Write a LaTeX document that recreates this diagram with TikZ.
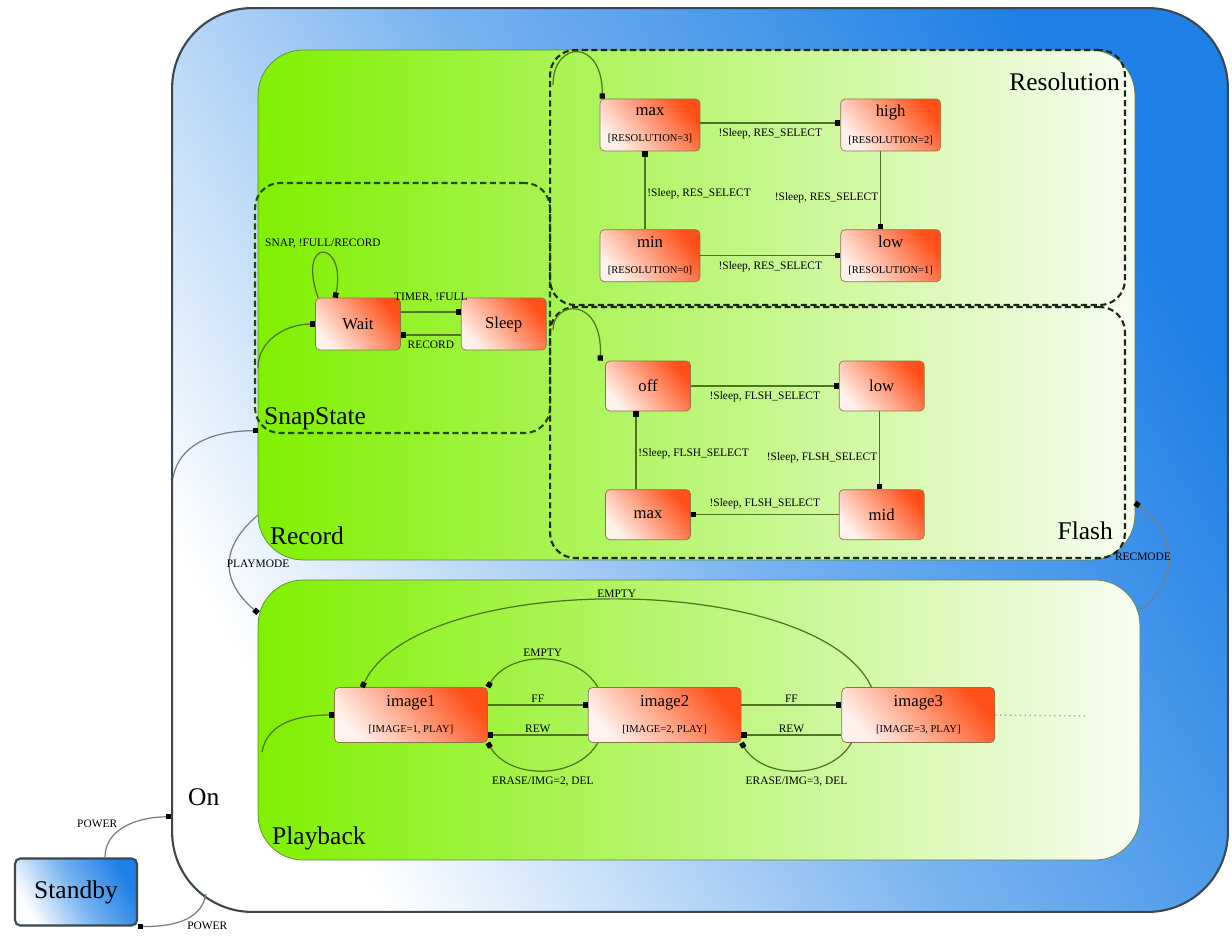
\documentclass[tikz,border=0pt]{standalone}
\usepackage{fontspec}
\setmainfont{Liberation Serif}
\usepackage{xcolor}
\definecolor{StateRed}{RGB}{255,80,25}
\definecolor{StatePale}{RGB}{255,242,236}
\definecolor{StateEdge}{RGB}{140,115,75}
\definecolor{LeafGreen}{RGB}{128,240,0}
\definecolor{PaleGreen}{RGB}{248,252,242}
\definecolor{FrameGreen}{RGB}{95,135,55}
\definecolor{EdgeGreen}{RGB}{80,115,35}
\definecolor{RegionLine}{RGB}{25,40,20}
\definecolor{SnapLine}{RGB}{30,75,0}
\definecolor{SkyBlue}{RGB}{30,128,230}
\definecolor{FrameGray}{RGB}{60,70,80}
\usetikzlibrary{positioning,arrows.meta,shapes,calc}
\newcommand{\stcond}[1]{{\fontsize{6}{7}\selectfont[#1]}}

\begin{document}
\begin{tikzpicture}[x=0.02cm, y=-0.02cm,
    bluebox/.style={rectangle, draw=FrameGray, line width=1.2pt, inner sep=0pt,
                top color=SkyBlue, bottom color=white, middle color=SkyBlue!60,
                shading angle=-60},
    area/.style={rectangle, draw=FrameGreen, inner sep=0pt, outer sep=0pt,
                rounded corners=0.9cm, left color=LeafGreen, right color=PaleGreen},
    region/.style={rectangle, draw=RegionLine, line width=1.2pt,
                dash pattern=on 3.5pt off 2pt, inner sep=0pt, outer sep=0pt,
                rounded corners=0.5cm},
    state/.style={rectangle, draw=StateEdge, rounded corners=2.5pt,
                top color=StateRed, bottom color=StatePale, shading angle=-50,
                align=center, font=\fontsize{9.5}{10}\selectfont, inner sep=1pt},
    title/.style={font=\fontsize{14.5}{16}\selectfont, inner sep=1pt},
    lbl/.style={font=\fontsize{6.5}{7}\selectfont, inner sep=1pt},
    arrow/.style={-{Square[length=3pt,width=3pt,color=black]}, draw=EdgeGreen, line width=0.7pt},
    onarrow/.style={-{Square[length=3pt,width=3pt,color=black]}, draw=FrameGray!70, line width=0.7pt}
]
    \useasboundingbox (0,0) rectangle (1232,942);

    % containers
    \node[bluebox, rounded corners=1.6cm, minimum width=21.12cm, minimum height=18.08cm] (on) at (700,460) {};
    \node[area, minimum width=17.54cm, minimum height=10.2cm] (record) at (696.5,305) {};
    \node[area, minimum width=17.64cm, minimum height=5.6cm] (playback) at (699,720) {};
    \node[region, draw=SnapLine, minimum width=5.9cm, minimum height=5cm] (snapstate) at (402.5,308) {};
    \node[region, minimum width=11.5cm, minimum height=5.1cm] (resolution) at (837.5,177.5) {};
    \node[region, minimum width=11.5cm, minimum height=5.02cm] (flash) at (837.5,432.5) {};
    \node[bluebox, rounded corners=3pt, minimum width=2.44cm, minimum height=1.34cm, title] (standby) at (76,892) {Standby};

    \node[title, anchor=base west] (ontitle) at ([xshift=0.3cm,yshift=2.14cm]on.south west) {On};
    \node[title, anchor=base west] (rectitle) at ([xshift=0.2cm,yshift=0.3cm]record.south west) {Record};
    \node[title, anchor=base west] (playtitle) at ([xshift=0.24cm,yshift=0.3cm]playback.south west) {Playback};
    \node[title, anchor=base west] (snaptitle) at ([xshift=0.14cm,yshift=0.16cm]snapstate.south west) {SnapState};
    \node[title, anchor=north east] (restitle) at ([xshift=-0.06cm,yshift=-0.42cm]resolution.north east) {Resolution};
    \node[title, anchor=base east] (flashtitle) at ([xshift=-0.2cm,yshift=0.36cm]flash.south east) {Flash};

    % snap state
    \node[state, minimum width=1.7cm, minimum height=1.04cm] (wait) at (358,324) {Wait};
    \node[state, minimum width=1.7cm, minimum height=1.04cm, right=1.2cm of wait] (sleep) {Sleep};

    % resolution
    \node[state, minimum width=2cm, minimum height=1.04cm] (rmax) at (650,125) {max\\[5pt]\stcond{RESOLUTION=3}};
    \node[state, minimum width=2cm, minimum height=1.04cm, right=2.8cm of rmax] (rhigh) {high\\[5pt]\stcond{RESOLUTION=2}};
    \node[state, minimum width=2cm, minimum height=1.04cm, below=1.56cm of rmax] (rmin) {min\\[5pt]\stcond{RESOLUTION=0}};
    \node[state, minimum width=2cm, minimum height=1.04cm, right=2.8cm of rmin] (rlow) {low\\[5pt]\stcond{RESOLUTION=1}};

    % flash
    \node[state, minimum width=1.7cm, minimum height=1cm] (foff) at (648,386) {off};
    \node[state, minimum width=1.7cm, minimum height=1cm, right=2.96cm of foff] (flow) {low};
    \node[state, minimum width=1.7cm, minimum height=1cm, below=1.56cm of foff] (fmax) {max};
    \node[state, minimum width=1.7cm, minimum height=1cm, right=2.96cm of fmax] (fmid) {mid};

    % playback
    \node[state, minimum width=3.06cm, minimum height=1.1cm] (image1) at (411,715) {image1\\[5pt]\stcond{IMAGE=1, PLAY}};
    \node[state, minimum width=3.06cm, minimum height=1.1cm, right=2cm of image1] (image2) {image2\\[5pt]\stcond{IMAGE=2, PLAY}};
    \node[state, minimum width=3.06cm, minimum height=1.1cm, right=2cm of image2] (image3) {image3\\[5pt]\stcond{IMAGE=3, PLAY}};

    \coordinate (snapinit) at (258,368);
    \coordinate (resinit) at (553,85);
    \coordinate (flinit) at (553,330);
    \coordinate (plinit) at (262,752);
    \coordinate (oninit) at (173,478);
    \coordinate (more) at (1085,716);

    \draw[arrow] (snapinit) to[out=90,in=180] (wait.west);
    \draw[arrow] ([xshift=0.06cm]wait.north west) .. controls +(-22,-62) and +(12,-58) .. ([xshift=0.4cm]wait.north west)
        node[lbl, pos=0.5, above=1pt] (looplbl) {SNAP, !FULL/RECORD};
    \draw[arrow] ([yshift=0.24cm]wait.east) -- node[lbl, above=4pt] {TIMER, !FULL} ([yshift=0.24cm]sleep.west);
    \draw[arrow] ([yshift=-0.22cm]sleep.west) -- node[lbl, below=2pt] {RECORD} ([yshift=-0.22cm]wait.east);

    \draw[arrow] (resinit) .. controls (553,40) and (603,38) .. ([xshift=0.05cm]rmax.north west);
    \draw[arrow] ([yshift=0.04cm]rmax.east) -- node[lbl, below=2pt] {!Sleep, RES\_SELECT} ([yshift=0.04cm]rhigh.west);
    \draw[arrow] ([xshift=-0.2cm]rhigh.south) -- node[lbl, left, pos=0.6] {!Sleep, RES\_SELECT} ([xshift=-0.2cm]rlow.north);
    \draw[arrow] (rmin.east) -- node[lbl, below=2pt] {!Sleep, RES\_SELECT} (rlow.west);
    \draw[arrow] ([xshift=-0.1cm]rmin.north) -- node[lbl, right, pos=0.45] {!Sleep, RES\_SELECT} ([xshift=-0.1cm]rmax.south);

    \draw[arrow] (flinit) .. controls (553,300) and (603,296) .. ([xshift=-0.1cm]foff.north west);
    \draw[arrow] (foff.east) -- node[lbl, below=2pt] {!Sleep, FLSH\_SELECT} (flow.west);
    \draw[arrow] ([xshift=-0.04cm]flow.south) -- node[lbl, left, pos=0.6] {!Sleep, FLSH\_SELECT} ([xshift=-0.04cm]fmid.north);
    \draw[arrow] (fmid.west) -- node[lbl, above=2pt] {!Sleep, FLSH\_SELECT} (fmax.east);
    \draw[arrow] ([xshift=-0.24cm]fmax.north) -- node[lbl, right, pos=0.45] {!Sleep, FLSH\_SELECT} ([xshift=-0.24cm]foff.south);

    \draw[arrow] (plinit) to[out=80,in=180] (image1.west);
    \draw[arrow] ([yshift=0.2cm]image1.east) -- node[lbl, above] {FF} ([yshift=0.2cm]image2.west);
    \draw[arrow] ([yshift=-0.4cm]image2.west) -- node[lbl, above] {REW} ([yshift=-0.4cm]image1.east);
    \draw[arrow] ([yshift=0.2cm]image2.east) -- node[lbl, above] {FF} ([yshift=0.2cm]image3.west);
    \draw[arrow] ([yshift=-0.4cm]image3.west) -- node[lbl, above] {REW} ([yshift=-0.4cm]image2.east);
    \draw[arrow] ([xshift=0.2cm]image2.north west) to[out=120,in=60] node[lbl, above] {EMPTY} (image1.north east);
    \draw[arrow] ([xshift=0.6cm]image3.north west) to[out=115,in=65,looseness=0.65] node[lbl, above] {EMPTY} ([xshift=0.56cm]image1.north west);
    \draw[arrow] ([xshift=0.2cm]image2.south west) to[out=-120,in=-60] node[lbl, below=2pt] {ERASE/IMG=2, DEL} (image1.south east);
    \draw[arrow] ([xshift=0.2cm]image3.south west) to[out=-120,in=-60] node[lbl, below=2pt] {ERASE/IMG=3, DEL} (image2.south east);
    \draw[gray!70, line width=0.8pt, dotted] (image3.east) -- (more);

    % on level
    \draw[onarrow] (oninit) to[out=80,in=180] (record.196);
    \draw[onarrow] ([yshift=0.9cm]record.south west) to[out=220,in=140,looseness=1.3]
        node[lbl, pos=0.5, anchor=west, xshift=-0.1cm] {PLAYMODE} ([yshift=-0.66cm]playback.north east -| playback.west);
    \draw[onarrow] ([yshift=-0.6cm]playback.north east) to[out=35,in=-35,looseness=1.2]
        node[lbl, pos=0.5, anchor=east, xshift=0.1cm] {RECMODE} ([yshift=1.14cm]record.south east);
    \draw[onarrow] ([xshift=0.58cm]standby.north) to[out=90,in=180]
        node[lbl, pos=0.4, above left=0pt] {POWER} (on.214);
    \draw[onarrow] ([xshift=0.7cm,yshift=0.38cm]on.south west) to[out=-100,in=0]
        node[lbl, pos=0.45, below right=0pt] {POWER} (standby.south east);
\end{tikzpicture}
\end{document}
